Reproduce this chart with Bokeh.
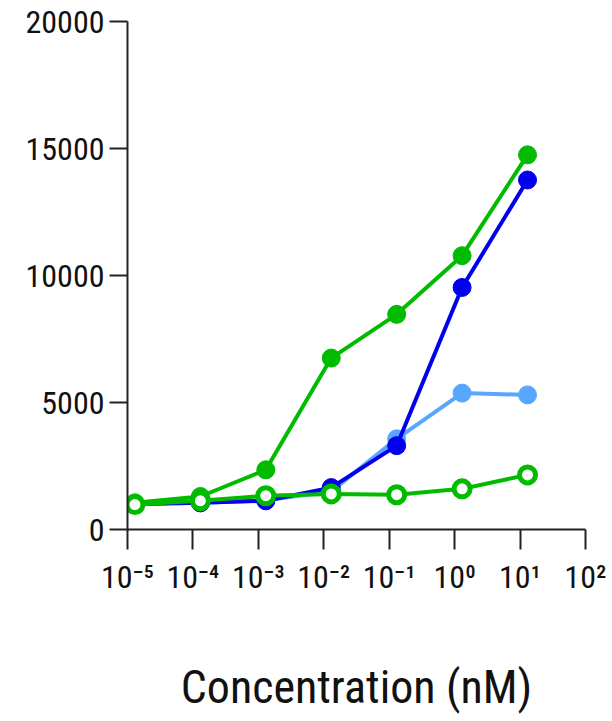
from bokeh.plotting import figure
from bokeh.models import Range1d, FixedTicker
from bokeh.embed import file_html
from bokeh.resources import INLINE

# Data
conc = [1.3e-5, 1.3e-4, 1.3e-3, 1.3e-2, 1.3e-1, 1.3e0, 1.3e1]
green_filled = [1050, 1300, 2350, 6750, 8470, 10780, 14750]
blue_filled = [1000, 1050, 1130, 1650, 3300, 9530, 13760]
lightblue_filled = [1000, 1050, 1150, 1500, 3570, 5370, 5300]
green_open = [980, 1130, 1330, 1400, 1370, 1600, 2150]

x_ticks = [1e-5, 1e-4, 1e-3, 1e-2, 1e-1, 1e0, 1e1, 1e2]
x_tick_labels = ["10⁻⁵", "10⁻⁴", "10⁻³", "10⁻²", "10⁻¹", "10⁰", "10¹", "10²"]
y_ticks = [0, 5000, 10000, 15000, 20000]
x_label = "Concentration (nM)"

FONT = "'Roboto Condensed', 'Liberation Sans', sans-serif"
GREEN = "#00bb00"
BLUE = "#0000ee"
LBLUE = "#58a6ff"

p = figure(width=606, height=716, x_axis_type="log",
           x_range=Range1d(1e-5, 1e2), y_range=Range1d(0, 20000),
           output_backend="svg", toolbar_location=None,
           min_border_left=127, min_border_right=21,
           min_border_top=21, min_border_bottom=183)

p.outline_line_color = None
p.grid.grid_line_color = None
p.background_fill_color = "white"

p.xaxis.ticker = FixedTicker(ticks=x_ticks, minor_ticks=[])
p.xaxis.major_label_overrides = {t: l for t, l in zip(x_ticks, x_tick_labels)}
p.yaxis.ticker = FixedTicker(ticks=y_ticks, minor_ticks=[])

for ax in (p.xaxis, p.yaxis):
    ax.axis_line_width = 2
    ax.axis_line_color = "#222222"
    ax.major_tick_line_width = 2
    ax.major_tick_line_color = "#222222"
    ax.major_tick_in = 0
    ax.minor_tick_line_color = None
    ax.major_label_text_font = FONT
    ax.major_label_text_font_size = "32px"
    ax.major_label_text_color = "#111111"

p.xaxis.major_tick_out = 20
p.yaxis.major_tick_out = 18
p.xaxis.major_label_standoff = 8
p.yaxis.major_label_standoff = 5

p.xaxis.axis_label = x_label
p.xaxis.axis_label_text_font = FONT
p.xaxis.axis_label_text_font_size = "46px"
p.xaxis.axis_label_text_font_style = "normal"
p.xaxis.axis_label_text_color = "#111111"
p.xaxis.axis_label_standoff = 61

# Series
p.line(conc, lightblue_filled, line_color=LBLUE, line_width=4)
p.scatter(conc, lightblue_filled, size=18, fill_color=LBLUE, line_color=LBLUE)

p.line(conc, blue_filled, line_color=BLUE, line_width=4)
p.scatter(conc, blue_filled, size=18, fill_color=BLUE, line_color=BLUE)

p.line(conc, green_filled, line_color=GREEN, line_width=4)
p.scatter(conc, green_filled, size=18, fill_color=GREEN, line_color=GREEN)

p.line(conc, green_open, line_color=GREEN, line_width=4)
p.scatter(conc, green_open, size=16, fill_color="white", line_color=GREEN, line_width=5)

open("out.html", "w").write(file_html(p, INLINE))
